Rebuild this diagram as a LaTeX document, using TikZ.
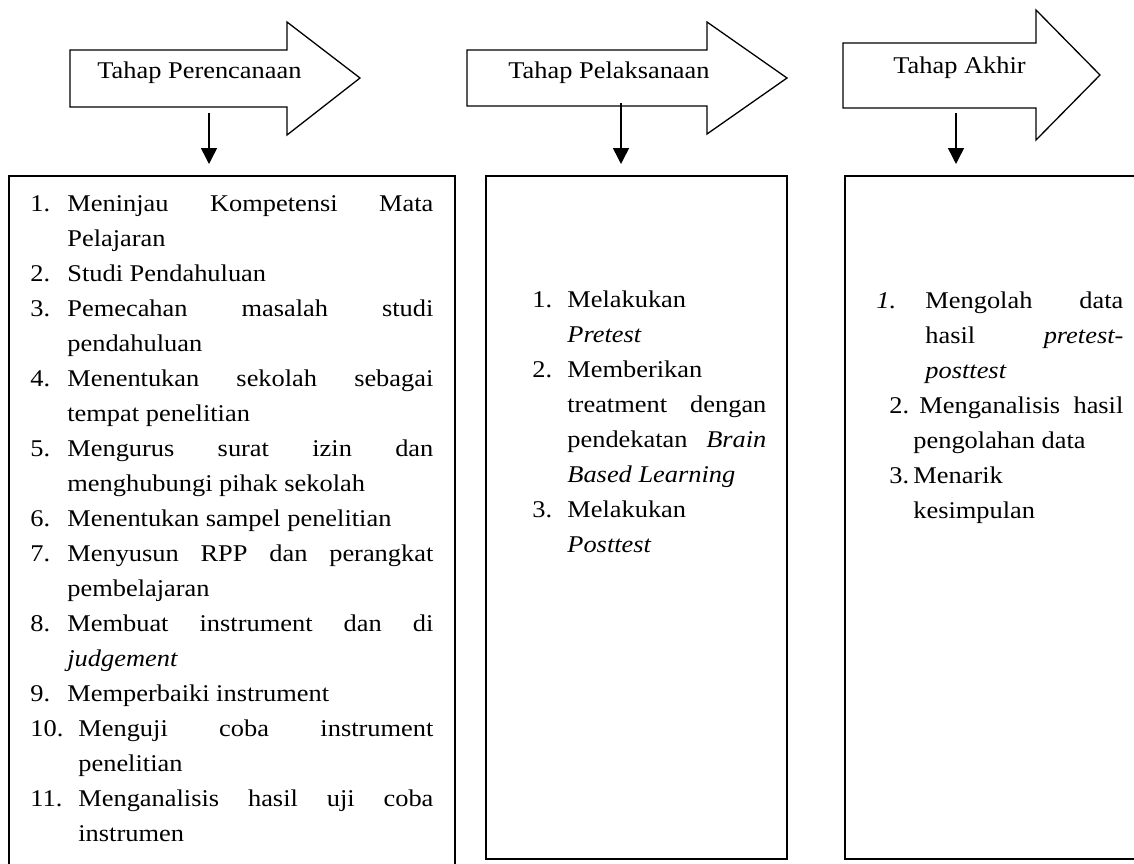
\documentclass[tikz,border=0pt]{standalone}
\usepackage{fontspec}
\setmainfont{Liberation Serif}[FakeStretch=1.1]
\usetikzlibrary{positioning, arrows.meta}

\newcommand{\planitem}[3]{\noindent\hangindent=#1\hangafter=1\makebox[#2][l]{#3}\ignorespaces}
\hyphenpenalty=10000

\begin{document}
\begin{tikzpicture}[x=0.5pt, y=-0.5pt,
  stagearrow/.style={draw, line width=0.65pt, fill=white, line join=miter},
  stagebox/.style={draw, line width=0.9pt, anchor=north west, inner sep=0pt},
  stagelabel/.style={anchor=base west, inner sep=0pt, font=\fontsize{12}{14}\selectfont},
  listtext/.style={anchor=base west, inner sep=0pt, align=justify, font=\fontsize{12}{17.5}\selectfont},
  arrow/.style={-{Triangle[length=8pt, width=8pt]}, line width=0.75pt, shorten >=5.5pt}
]
\clip (0,0) rectangle (1134,863);
\fill[white] (0,0) rectangle (1134,863);

% block arrows of the three stages
\draw[stagearrow] (70,50) -- (287,50) -- (287,22) -- (360,78) -- (287,135) -- (287,107) -- (70,107) -- cycle;
\draw[stagearrow] (467,50) -- (707,50) -- (707,22) -- (787,78) -- (707,134) -- (707,106) -- (467,106) -- cycle;
\draw[stagearrow] (843,43) -- (1036,43) -- (1036,10) -- (1100,75) -- (1036,140) -- (1036,108) -- (843,108) -- cycle;

\node[stagelabel] (t1) at (97,78) {Tahap Perencanaan};
\node[stagelabel] (t2) at (508,78) {Tahap Pelaksanaan};
\node[stagelabel] (t3) at (893,73) {Tahap Akhir};

% boxes
\node[stagebox, minimum width=223pt, minimum height=362.5pt] (box1) at (8,175) {};
\node[stagebox, minimum width=150.5pt, minimum height=341.5pt] (box2) at (485,175) {};
\node[stagebox, minimum width=158pt, minimum height=341.5pt] (box3) at (844,175) {};

\node[listtext, text width=201.5pt] (list1) at (30,211) {%
\planitem{18.5pt}{18.5pt}{1.}Meninjau Kompetensi Mata\linebreak Pelajaran\par
\planitem{18.5pt}{18.5pt}{2.}Studi Pendahuluan\par
\planitem{18.5pt}{18.5pt}{3.}Pemecahan masalah studi\linebreak pendahuluan\par
\planitem{18.5pt}{18.5pt}{4.}Menentukan sekolah sebagai\linebreak tempat penelitian\par
\planitem{18.5pt}{18.5pt}{5.}Mengurus surat izin dan\linebreak menghubungi pihak sekolah\par
\planitem{18.5pt}{18.5pt}{6.}Menentukan sampel penelitian\par
\planitem{18.5pt}{18.5pt}{7.}Menyusun RPP dan perangkat\linebreak pembelajaran\par
\planitem{18.5pt}{18.5pt}{8.}Membuat instrument dan di\linebreak \textit{judgement}\par
\planitem{18.5pt}{18.5pt}{9.}Memperbaiki instrument\par
\planitem{24pt}{24pt}{10.}Menguji coba instrument\linebreak penelitian\par
\planitem{24pt}{24pt}{11.}Menganalisis hasil uji coba\linebreak instrumen\par};

\node[listtext, text width=117pt] (list2) at (532,307) {%
\planitem{17.5pt}{17.5pt}{1.}Melakukan\newline \textit{Pretest}\par
\planitem{17.5pt}{17.5pt}{2.}Memberikan\newline treatment dengan\linebreak pendekatan \textit{Brain}\linebreak \textit{Based Learning}\par
\planitem{17.5pt}{17.5pt}{3.}Melakukan\newline \textit{Posttest}\par};

\node[listtext, text width=123.5pt] (list3) at (876,308) {%
\planitem{24.5pt}{24.5pt}{\textit{1.}}Mengolah data\linebreak hasil \textit{pretest-}\linebreak \textit{posttest}\par
\planitem{18.5pt}{21.5pt}{\hspace{6.5pt}2.}Menganalisis hasil\linebreak pengolahan data\par
\planitem{18.5pt}{18.5pt}{\hspace{6.5pt}3.}Menarik\newline kesimpulan\par};

% arrows down to the boxes
\coordinate (d1) at (209,113);
\coordinate (d2) at (621,103);
\coordinate (d3) at (956,113);
\draw[arrow] (d1) -- (d1 |- box1.north);
\draw[arrow] (d2) -- (d2 |- box2.north);
\draw[arrow] (d3) -- (d3 |- box3.north);
\end{tikzpicture}
\end{document}
